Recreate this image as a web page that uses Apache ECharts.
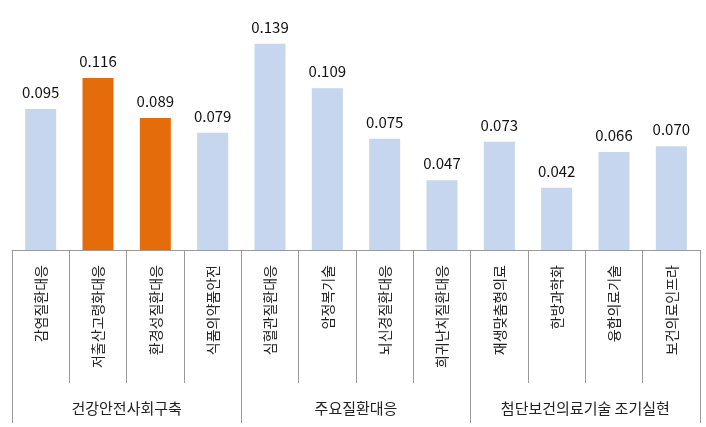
<!DOCTYPE html>
<html><head><meta charset="utf-8">
<script src="https://cdn.jsdelivr.net/npm/echarts@6/dist/echarts.min.js"></script>
<style>html,body{margin:0;padding:0;background:#fff}#c{width:706px;height:427px}</style>
</head><body><div id="c"></div>
<script>
const categories = ['감염질환대응','저출산고령화대응','환경성질환대응','식품의약품안전','심혈관질환대응','암정복기술','뇌신경질환대응','희귀난치질환대응','재생맞춤형의료','한방과학화','융합의료기술','보건의료인프라'];
const values = [0.095,0.116,0.089,0.079,0.139,0.109,0.075,0.047,0.073,0.042,0.066,0.070];
const groups = ['건강안전사회구축','주요질환대응','첨단보건의료기술 조기실현'];
const highlighted = [1,2];
const baseColor = '#c6d6ee', hiColor = '#e46c0a';
const font = '"Noto Sans CJK KR", "Noto Sans", sans-serif';
const chart = echarts.init(document.getElementById('c'));
chart.setOption({
  animation:false,
  grid:{left:12,right:6,top:0,bottom:177,containLabel:false},
  xAxis:[{
    type:'category', data:categories,
    axisLine:{show:true,lineStyle:{color:'#9a9a9a',width:1}},
    axisTick:{show:true,interval:0,length:133,lineStyle:{color:'#9a9a9a'}},
    axisLabel:{interval:0,rotate:90,margin:15,fontFamily:font,fontSize:14,color:'#222'}
  },{
    type:'category', data:groups, position:'bottom',
    axisLine:{show:false},
    axisTick:{show:true,interval:0,length:173,lineStyle:{color:'#9a9a9a'}},
    axisLabel:{interval:0,margin:151,fontFamily:font,fontSize:15,color:'#222'}
  }],
  yAxis:{type:'value',min:0,max:0.1685,show:false,splitLine:{show:false}},
  series:[{
    type:'bar', xAxisIndex:0, barWidth:31,
    data:values.map((v,i)=>({value:v,itemStyle:{color:highlighted.includes(i)?hiColor:baseColor}})),
    label:{show:true,position:'top',distance:9,fontFamily:font,fontSize:15,color:'#111',formatter:p=>p.value.toFixed(3)}
  }]
});
</script></body></html>
